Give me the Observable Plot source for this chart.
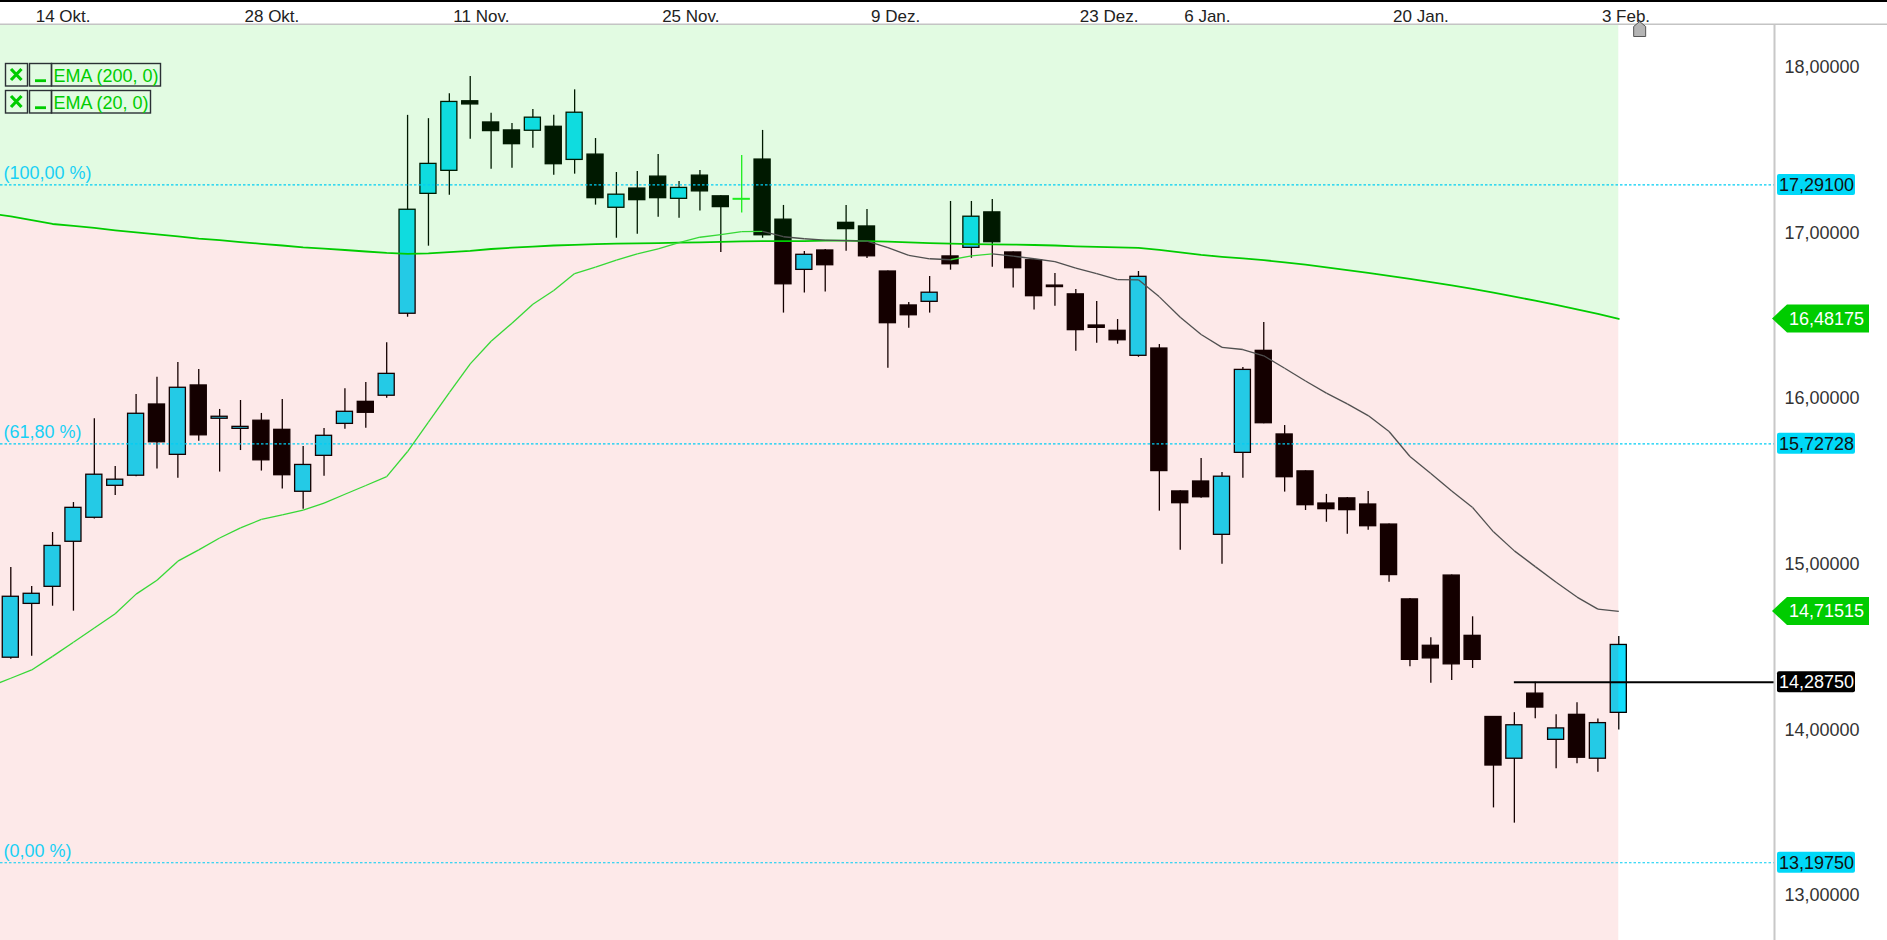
<!DOCTYPE html>
<html><head><meta charset="utf-8">
<script src="https://cdn.jsdelivr.net/npm/d3@7"></script>
<script src="https://cdn.jsdelivr.net/npm/@observablehq/plot@0.6"></script>
<style>html,body{margin:0;padding:0;background:#fff;overflow:hidden}</style>
</head><body><div id="chart"></div>
<script>
// ---------- DATA ----------
const dates = ["2024-10-11","2024-10-14","2024-10-15","2024-10-16","2024-10-17","2024-10-18",
"2024-10-21","2024-10-22","2024-10-23","2024-10-24","2024-10-25",
"2024-10-28","2024-10-29","2024-10-30","2024-10-31","2024-11-01",
"2024-11-04","2024-11-05","2024-11-06","2024-11-07","2024-11-08",
"2024-11-11","2024-11-12","2024-11-13","2024-11-14","2024-11-15",
"2024-11-18","2024-11-19","2024-11-20","2024-11-21","2024-11-22",
"2024-11-25","2024-11-26","2024-11-27","2024-11-28","2024-11-29",
"2024-12-02","2024-12-03","2024-12-04","2024-12-05","2024-12-06",
"2024-12-09","2024-12-10","2024-12-11","2024-12-12","2024-12-13",
"2024-12-16","2024-12-17","2024-12-18","2024-12-19","2024-12-20",
"2024-12-23","2024-12-27","2024-12-30","2025-01-02","2025-01-03",
"2025-01-06","2025-01-07","2025-01-08","2025-01-09","2025-01-10",
"2025-01-13","2025-01-14","2025-01-15","2025-01-16","2025-01-17",
"2025-01-20","2025-01-21","2025-01-22","2025-01-23","2025-01-24",
"2025-01-27","2025-01-28","2025-01-29","2025-01-30","2025-01-31",
"2025-02-03","2025-02-04"];

const open = [14.436,14.761,14.864,15.136,15.281,15.474,15.535,15.965,15.661,16.080,15.879,
15.818,15.867,15.812,15.438,15.655,15.848,15.981,16.018,16.513,17.237,
17.376,17.796,17.668,17.620,17.618,17.642,17.442,17.474,17.153,17.269,
17.341,17.207,17.347,17.222,17.207,17.444,17.081,16.778,16.895,17.062,
17.040,16.768,16.563,16.585,16.859,16.911,17.125,16.883,16.836,16.683,
16.630,16.442,16.410,16.259,16.303,15.440,15.500,15.178,15.673,16.289,
15.784,15.561,15.367,15.398,15.361,15.240,14.788,14.508,14.932,14.568,
14.078,13.826,14.219,13.940,14.091,13.826,14.103];
const high = [14.981,14.866,15.192,15.373,15.879,15.590,16.026,16.130,16.218,16.176,15.935,
15.989,15.911,15.995,15.711,15.820,16.060,16.098,16.338,17.711,17.691,
17.841,17.945,17.723,17.662,17.747,17.711,17.865,17.571,17.366,17.372,
17.474,17.311,17.378,17.226,17.468,17.620,17.167,16.889,16.901,17.167,
17.143,16.771,16.581,16.738,17.191,17.191,17.203,16.886,16.841,16.756,
16.660,16.587,16.478,16.768,16.327,15.444,15.639,15.555,16.188,16.460,
15.838,15.564,15.422,15.404,15.440,15.244,14.794,14.556,14.935,14.683,
14.081,14.104,14.2875,14.091,14.164,14.066,14.564];
const low = [14.427,14.445,14.747,14.717,15.274,15.416,15.529,15.575,15.520,15.743,15.557,
15.687,15.563,15.454,15.333,15.532,15.816,15.822,16.003,16.492,16.921,
17.228,17.567,17.386,17.392,17.513,17.350,17.356,17.169,16.969,16.993,
17.096,17.090,17.133,16.883,17.122,16.969,16.517,16.638,16.644,16.891,
16.846,16.184,16.426,16.517,16.776,16.848,16.794,16.668,16.535,16.559,
16.287,16.335,16.329,16.250,15.321,15.085,15.399,15.001,15.520,15.848,
15.436,15.325,15.254,15.182,15.206,14.892,14.381,14.281,14.298,14.371,
13.529,13.437,14.068,13.766,13.795,13.745,14.000];
const close = [14.804,14.822,15.111,15.341,15.541,15.511,15.909,15.737,16.066,15.779,15.891,
15.830,15.628,15.538,15.600,15.776,15.921,15.915,16.150,17.141,17.418,
17.792,17.777,17.616,17.537,17.697,17.416,17.727,17.211,17.232,17.199,
17.211,17.273,17.252,17.157,17.207,16.987,16.691,16.869,16.806,17.024,
16.860,16.456,16.504,16.640,16.812,17.099,16.945,16.788,16.619,16.674,
16.414,16.428,16.353,16.736,15.563,15.369,15.405,15.529,16.174,15.852,
15.526,15.357,15.333,15.327,15.230,14.935,14.423,14.432,14.396,14.423,
13.785,14.028,14.135,14.009,13.832,14.041,14.513];

// EMA series: first value belongs to the trading day before the first candle (2024-10-10)
const ema200 = [17.119,17.101,17.079,17.055,17.043,17.031,17.017,17.004,16.992,16.980,16.967,
16.957,16.946,16.935,16.925,16.914,16.906,16.898,16.889,16.880,16.874,
16.878,16.885,16.893,16.904,16.912,16.918,16.925,16.929,16.933,16.936,
16.938,16.940,16.942,16.944,16.947,16.950,16.951,16.952,16.952,16.954,
16.954,16.952,16.949,16.944,16.940,16.937,16.934,16.932,16.931,16.928,
16.925,16.920,16.917,16.914,16.911,16.899,16.884,16.869,16.857,16.847,
16.837,16.823,16.809,16.793,16.777,16.760,16.742,16.724,16.704,16.684,
16.663,16.640,16.616,16.592,16.566,16.539,16.512,16.48175];
const ema20 = [14.263,14.312,14.362,14.444,14.529,14.615,14.701,14.820,14.904,15.019,15.087,
15.159,15.220,15.271,15.298,15.327,15.370,15.423,15.476,15.529,15.681,
15.859,16.036,16.210,16.347,16.456,16.570,16.653,16.756,16.795,16.837,
16.875,16.905,16.943,16.975,16.991,17.009,17.010,16.978,16.966,16.958,
16.955,16.951,16.912,16.866,16.845,16.839,16.862,16.875,16.861,16.845,
16.828,16.789,16.755,16.719,16.718,16.615,16.492,16.388,16.310,16.297,
16.259,16.184,16.107,16.034,15.969,15.898,15.802,15.651,15.549,15.442,
15.343,15.196,15.081,14.986,14.892,14.802,14.729,14.71515];

const tickDates  = ["2024-10-14","2024-10-28","2024-11-11","2024-11-25","2024-12-09","2024-12-23","2025-01-06","2025-01-20","2025-02-03"];
const tickLabels = ["14 Okt.","28 Okt.","11 Nov.","25 Nov.","9 Dez.","23 Dez.","6 Jan.","20 Jan.","3 Feb."];
const priceTicks = [13, 14, 15, 16, 17, 18];
const fibLevels  = [17.291, 15.72728, 13.1975];
const fibLabels  = ["(100,00 %)", "(61,80 %)", "(0,00 %)"];
const hLineValue = 14.2875;
const hLineStart = "2025-01-28";
const legendLabels = ["EMA (200, 0)", "EMA (20, 0)"];

// ---------- STYLE / LAYOUT ----------
const W = 1887, H = 940;
const FONT = "'Liberation Sans', Arial, Helvetica, sans-serif";
const CYAN_BODY = "#12ddfc", DOJI_GREEN = "#22f022";
const FIB = "#00cdf3", FIB_TEXT = "#18d0f5", TAG_CYAN = "#00d8f8", TAG_GREEN = "#00cc00";
const EMA200_C = "#00cc00", EMA20_UP = "#36d836", EMA20_DN = "#505050";
const HALF = 0.385;
const xDomain = [-0.4932, 84.505];
const yDomain = [12.7283, 18.2536];

const fmt = v => v.toFixed(5).replace(".", ",");
const dateIndex = new Map(dates.map((d, i) => [d, i]));
const candles = dates.map((d, i) => ({i, date: d, open: open[i], high: high[i], low: low[i], close: close[i]}));
const up = candles.filter(d => d.close > d.open);
const down = candles.filter(d => d.close < d.open);
const flat = candles.filter(d => d.close === d.open);
const moving = candles.filter(d => d.close !== d.open);
const emaPts = ema200.map((v, k) => ({i: k - 1, ema200: v, ema20: ema20[k]}));
const segs = d3.pairs(emaPts).map(([a, b]) => ({x1: a.i, y1: a.ema20, x2: b.i, y2: b.ema20, up: b.ema20 >= a.ema20}));

const tags = [
  {value: fibLevels[0], kind: "box", bg: TAG_CYAN, fg: "#111"},
  {value: fibLevels[1], kind: "box", bg: TAG_CYAN, fg: "#111"},
  {value: fibLevels[2], kind: "box", bg: TAG_CYAN, fg: "#111"},
  {value: ema200[ema200.length - 1], kind: "arrow", bg: TAG_GREEN, fg: "#fff"},
  {value: ema20[ema20.length - 1], kind: "arrow", bg: TAG_GREEN, fg: "#fff"},
  {value: hLineValue, kind: "box", bg: "#000", fg: "#fff"}
];

const house = {draw(ctx) { ctx.moveTo(0, -8); ctx.lineTo(6, -3); ctx.lineTo(6, 7); ctx.lineTo(-6, 7); ctx.lineTo(-6, -3); ctx.closePath(); }};

function chrome(index, scales, values, dim) {
  const {width, height, marginTop, marginRight} = dim;
  const ax = width - marginRight;
  const y = typeof scales.y === "function" ? scales.y : d3.scaleLinear(yDomain, [height, marginTop]);
  const g = d3.create("svg:g").attr("font-family", FONT).attr("text-anchor", "start");
  g.append("line").attr("x1", 0).attr("x2", width).attr("y1", 1).attr("y2", 1).attr("stroke", "#000").attr("stroke-width", 2);
  g.append("line").attr("x1", 0).attr("x2", width).attr("y1", marginTop - 0.75).attr("y2", marginTop - 0.75).attr("stroke", "#c4c4c4").attr("stroke-width", 1.5);
  g.append("line").attr("x1", ax - 0.5).attr("x2", ax - 0.5).attr("y1", marginTop).attr("y2", height).attr("stroke", "#c8c8c8").attr("stroke-width", 2);
  for (const t of tags) {
    const cy = y(t.value);
    if (t.kind === "arrow") {
      g.append("path").attr("d", `M${ax - 3},${cy} L${ax + 12},${cy - 14} H${ax + 94} V${cy + 14} H${ax + 12} Z`).attr("fill", t.bg);
      g.append("text").attr("x", ax + 14).attr("y", cy).attr("dy", "0.36em").attr("fill", t.fg).attr("font-size", 18).text(fmt(t.value));
    } else {
      g.append("rect").attr("x", ax + 2).attr("y", cy - 10.5).attr("width", 78).attr("height", 21).attr("rx", 2).attr("fill", t.bg);
      g.append("text").attr("x", ax + 4).attr("y", cy).attr("dy", "0.36em").attr("fill", t.fg).attr("font-size", 18).text(fmt(t.value));
    }
  }
  // legend
  legendLabels.forEach((lab, k) => {
    const top = 63.5 + k * 27, h = 22.5;
    const lw = k === 0 ? 109 : 99;
    const st = "#2b3035";
    g.append("rect").attr("x", 5.5).attr("y", top).attr("width", 22).attr("height", h).attr("fill", "none").attr("stroke", st).attr("stroke-width", 1.4);
    g.append("rect").attr("x", 29.5).attr("y", top).attr("width", 22).attr("height", h).attr("fill", "none").attr("stroke", st).attr("stroke-width", 1.4);
    g.append("rect").attr("x", 51.5).attr("y", top).attr("width", lw).attr("height", h).attr("fill", "none").attr("stroke", st).attr("stroke-width", 1.4);
    g.append("path").attr("d", `M11,${top + 5.5} L21.5,${top + 16.5} M21.5,${top + 5.5} L11,${top + 16.5}`).attr("stroke", "#00cc00").attr("stroke-width", 3.2);
    g.append("rect").attr("x", 35).attr("y", top + 15.8).attr("width", 11).attr("height", 2.8).attr("fill", "#00cc00");
    g.append("text").attr("x", 53.5).attr("y", top + 18).attr("fill", "#00cc00").attr("font-size", 18).text(lab);
  });
  return g.node();
}

const chart = Plot.plot({
  width: W, height: H,
  marginLeft: 0, marginRight: 112, marginTop: 25, marginBottom: 0,
  style: {fontFamily: FONT, background: "#fff", overflow: "visible"},
  x: {type: "linear", domain: xDomain, axis: null},
  y: {type: "linear", domain: yDomain, axis: null},
  marks: [
    // candles
    Plot.ruleX(moving, {x: "i", y1: "low", y2: "high", stroke: "#000", strokeWidth: 1.3}),
    Plot.ruleX(flat, {x: "i", y1: "low", y2: "high", stroke: DOJI_GREEN, strokeWidth: 1.3}),
    Plot.rect(up, {x1: d => d.i - HALF, x2: d => d.i + HALF, y1: "open", y2: "close", fill: CYAN_BODY, stroke: "#000", strokeWidth: 1.3}),
    Plot.rect(down, {x1: d => d.i - HALF, x2: d => d.i + HALF, y1: "open", y2: "close", fill: "#000", stroke: "#000", strokeWidth: 1.3}),
    Plot.ruleY(flat, {x1: d => d.i - HALF - 0.03, x2: d => d.i + HALF + 0.03, y: "open", stroke: DOJI_GREEN, strokeWidth: 2}),
    // trend zones above / below EMA 200 (tinting overlay)
    Plot.areaY(emaPts, {x: "i", y1: "ema200", y2: () => yDomain[1], fill: "rgb(0,219,0)", fillOpacity: 0.113, clip: true}),
    Plot.areaY(emaPts, {x: "i", y1: "ema200", y2: () => yDomain[0], fill: "rgb(232,0,0)", fillOpacity: 0.086, clip: true}),
    // fib lines
    Plot.ruleY(fibLevels, {y: d => d, stroke: FIB, strokeWidth: 1.1, strokeDasharray: "2.5,2"}),
    Plot.text(fibLevels, {y: d => d, text: (d, i) => fibLabels[i], frameAnchor: "left", dx: 3, dy: -6, lineAnchor: "bottom", textAnchor: "start", fill: FIB_TEXT, fontSize: 18}),
    // EMAs
    Plot.line(emaPts, {x: "i", y: "ema200", stroke: EMA200_C, strokeWidth: 1.8, clip: true}),
    Plot.link(segs.filter(s => s.up), {x1: "x1", y1: "y1", x2: "x2", y2: "y2", stroke: EMA20_UP, strokeWidth: 1.3, clip: true}),
    Plot.link(segs.filter(s => !s.up), {x1: "x1", y1: "y1", x2: "x2", y2: "y2", stroke: EMA20_DN, strokeWidth: 1.3, clip: true}),
    // horizontal line
    Plot.ruleY([hLineValue], {y: d => d, x1: () => dateIndex.get(hLineStart), x2: () => xDomain[1], stroke: "#000", strokeWidth: 2}),
    // top date axis
    Plot.text(tickDates, {x: d => dateIndex.get(d), text: (d, i) => tickLabels[i], frameAnchor: "top", lineAnchor: "bottom", dy: -4, dx: 4, textAnchor: "start", fontSize: 17, fill: "#222"}),
    // right price axis
    Plot.text(priceTicks, {y: d => d, text: d => fmt(d), frameAnchor: "right", dx: 84, textAnchor: "end", lineAnchor: "middle", fontSize: 18, fill: "#333"}),
    chrome,
    // current time marker
    Plot.dot([{i: dates.length}], {x: "i", frameAnchor: "top", dy: 4, symbol: house, fill: "#b4b4b4", stroke: "#555", strokeWidth: 1})
  ]
});
document.getElementById("chart").appendChild(chart);
</script>
</body></html>
